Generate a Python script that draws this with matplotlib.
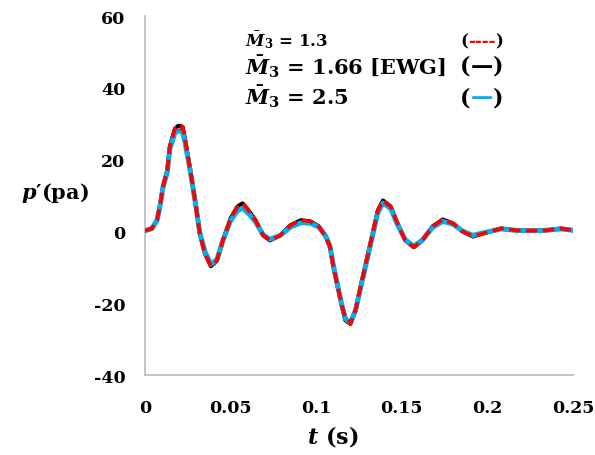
import matplotlib
matplotlib.use("Agg")
import matplotlib.pyplot as plt
from matplotlib.offsetbox import TextArea, HPacker, AnnotationBbox

plt.rcParams["font.family"] = "DejaVu Serif"
plt.rcParams["font.weight"] = "bold"
plt.rcParams["axes.unicode_minus"] = False
plt.rcParams["mathtext.fontset"] = "custom"
plt.rcParams["mathtext.it"] = "DejaVu Serif:italic:bold"
plt.rcParams["mathtext.rm"] = "DejaVu Serif:bold"
plt.rcParams["mathtext.bf"] = "DejaVu Serif:bold"

# time (s)
t = [0, 0.004, 0.007, 0.009, 0.0105, 0.013, 0.0145, 0.0175, 0.0195, 0.0205,
     0.022, 0.0235, 0.0265, 0.0295, 0.032, 0.035, 0.0385, 0.042, 0.0455, 0.05,
     0.054, 0.057, 0.0605, 0.0645, 0.069, 0.073, 0.079, 0.085, 0.091, 0.0965,
     0.1015, 0.1055, 0.108, 0.110, 0.1125, 0.115, 0.117, 0.1185, 0.120, 0.123,
     0.126, 0.130, 0.133, 0.136, 0.139, 0.1435, 0.1475, 0.152, 0.157, 0.162,
     0.168, 0.174, 0.180, 0.1855, 0.1915, 0.1995, 0.208, 0.2165, 0.2255, 0.234,
     0.243, 0.25]

# p' (pa) for M3 = 1.66 [EWG]
p_ewg = [0.2, 0.8, 3.1, 7.8, 12.5, 16.9, 23.6, 28.6, 29.4, 29.4,
         29.0, 25.3, 16.9, 7.8, -0.6, -6.1, -9.7, -8.1, -2.5, 3.6,
         6.9, 7.8, 5.8, 3.1, -1.1, -2.5, -1.1, 1.7, 3.1, 2.8,
         1.4, -1.4, -4.2, -9.7, -15.3, -20.8, -24.7, -25.3, -25.6, -21.9,
         -15.3, -6.9, -0.6, 5.8, 8.6, 6.9, 2.2, -2.5, -4.4, -2.5,
         1.4, 3.3, 2.2, 0.0, -1.4, -0.3, 0.8, 0.3, 0.2, 0.3,
         0.8, 0.3]

# p' (pa) for M3 = 1.3
p_13 = [0.2, 0.8, 3.1, 7.8, 12.5, 16.9, 23.6, 28.6, 29.4, 28.6,
        29.2, 25.3, 16.9, 7.8, -0.6, -6.1, -9.7, -8.1, -2.5, 3.6,
        6.9, 7.8, 5.8, 3.1, -1.1, -2.5, -1.1, 1.7, 3.1, 2.8,
        1.4, -1.4, -4.2, -9.7, -15.3, -20.8, -23.9, -24.3, -25.9, -21.9,
        -15.3, -6.9, -0.6, 5.8, 8.6, 6.9, 2.2, -2.5, -4.4, -2.5,
        1.4, 3.3, 2.2, 0.0, -1.4, -0.3, 0.8, 0.3, 0.2, 0.3,
        0.8, 0.3]

# p' (pa) for M3 = 2.5
p_25 = [0.2, 0.8, 3.0, 7.6, 12.2, 16.5, 23.0, 27.5, 28.0, 28.0,
        27.6, 24.5, 16.5, 7.8, -0.3, -5.6, -9.2, -7.8, -2.6, 3.0,
        5.8, 6.5, 5.0, 2.7, -0.9, -2.2, -1.1, 1.2, 2.4, 2.3,
        1.2, -1.2, -4.0, -9.4, -15.0, -20.5, -24.2, -25.0, -25.4, -22.0,
        -15.6, -7.3, -1.0, 5.2, 7.9, 6.4, 1.9, -2.3, -4.1, -2.4,
        1.1, 2.8, 2.0, 0.1, -1.1, -0.2, 0.7, 0.3, 0.2, 0.3,
        0.7, 0.3]

xticks = [0, 0.05, 0.1, 0.15, 0.2, 0.25]
xticklabels = ["0", "0.05", "0.1", "0.15", "0.2", "0.25"]
yticks = [-40, -20, 0, 20, 40, 60]

RED = "#FF0000"
BLUE = "#00B0F0"
GRAY = "#BFBFBF"

fig = plt.figure(figsize=(5.95, 4.56), dpi=100)
ax = fig.add_axes([0.2437, 0.1754, 0.7193, 0.7873])

ax.plot(t, p_ewg, color="black", lw=3.0, solid_joinstyle="round", zorder=2)
ax.plot(t, p_25, color=BLUE, lw=3.6, solid_joinstyle="round", zorder=3)
ax.plot(t, p_13, color=RED, lw=2.7, ls=(0, (3.0, 1.5)), zorder=4)

ax.set_xlim(0, 0.25)
ax.set_ylim(-40, 60)
ax.set_xticks(xticks)
ax.set_xticklabels(xticklabels)
ax.set_yticks(yticks)
ax.tick_params(length=0, labelsize=12.5)
ax.tick_params(axis="x", pad=17)
ax.tick_params(axis="y", pad=14)
for s in ["top", "right"]:
    ax.spines[s].set_visible(False)
for s in ["left", "bottom"]:
    ax.spines[s].set_color(GRAY)
    ax.spines[s].set_linewidth(1.3)

fig.text(0.093, 1 - 193 / 456, "$p$\u2032(pa)", fontsize=15, ha="center", va="center")
fig.text(333 / 595, 1 - 437 / 456, r"$t$ (s)", fontsize=16, ha="center", va="center")

# legend written as text lines
ax.text(0.234, 0.936, r"$\bar{M}_3$ = 1.3", transform=ax.transAxes,
        fontsize=12, ha="left", va="center")
ax.text(0.234, 0.861, r"$\bar{M}_3$ = 1.66 [EWG]", transform=ax.transAxes,
        fontsize=15, ha="left", va="center")
ax.text(0.234, 0.777, r"$\bar{M}_3$ = 2.5", transform=ax.transAxes,
        fontsize=15, ha="left", va="center")


def key(y, mark, color, size):
    props = dict(fontsize=size, fontweight="bold")
    box = HPacker(children=[TextArea("(", textprops=props),
                            TextArea(mark, textprops=dict(props, color=color)),
                            TextArea(")", textprops=props)],
                  pad=0, sep=0, align="center")
    ab = AnnotationBbox(box, (0.837, y), xycoords=ax.transAxes,
                        box_alignment=(1, 0.5), frameon=False, pad=0)
    ax.add_artist(ab)


key(0.932, "----", RED, 12)
key(0.861, "\u2014", "black", 16)
key(0.774, "\u2014", BLUE, 16)

fig.savefig("out.png", dpi=100)
